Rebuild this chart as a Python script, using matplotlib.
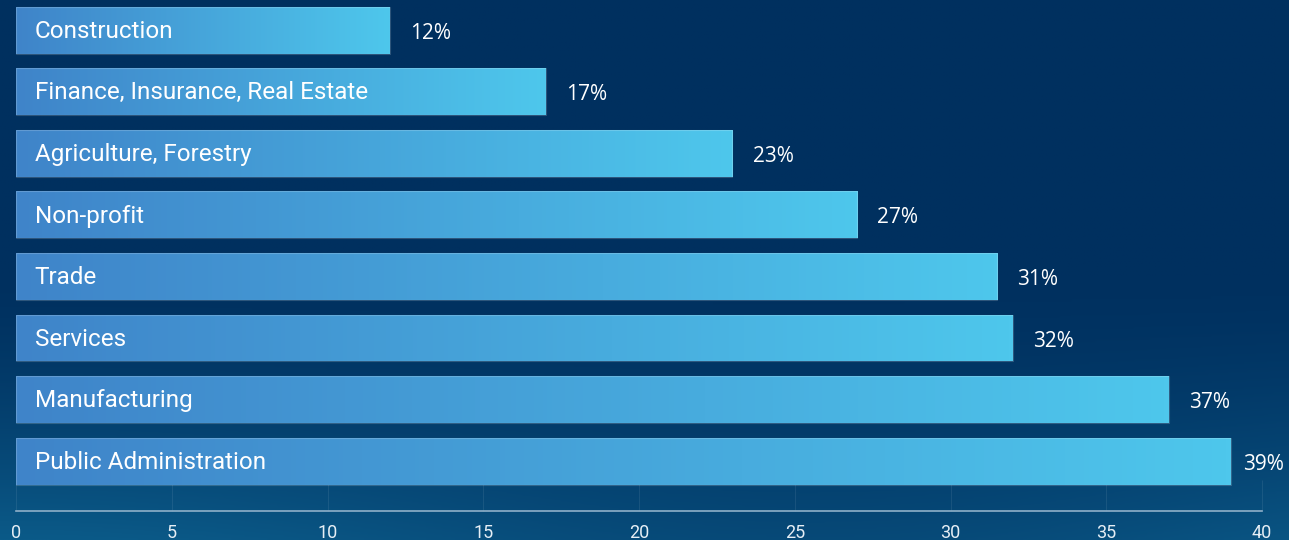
import numpy as np
import matplotlib
matplotlib.use("Agg")
import matplotlib.pyplot as plt
from matplotlib.colors import LinearSegmentedColormap

# Data -----------------------------------------------------------------------
sectors = ["Construction", "Finance, Insurance, Real Estate", "Agriculture, Forestry",
           "Non-profit", "Trade", "Services", "Manufacturing", "Public Administration"]
shares = [12, 17, 23, 27, 31.5, 32, 37, 39]
share_labels = ["12%", "17%", "23%", "27%", "31%", "32%", "37%", "39%"]
x_ticks = [0, 5, 10, 15, 20, 25, 30, 35, 40]

plt.rcParams["font.family"] = ["Roboto", "DejaVu Sans"]

fig = plt.figure(figsize=(12.89, 5.4), dpi=100)

# Background: dark navy with a teal glow towards the bottom
bg = fig.add_axes([0, 0, 1, 1], zorder=0)
bg.set_axis_off()
yy, xx = np.mgrid[0:1:200j, 0:1:400j]
glow = np.clip((yy - 0.5) / 0.5, 0, 1) ** 1.5 * (0.8 + 0.2 * np.cos(xx * 5.0))
bg_cmap = LinearSegmentedColormap.from_list("bg", ["#00305f", "#0b5a88"])
bg.imshow(glow, cmap=bg_cmap, vmin=0, vmax=1, aspect="auto", extent=(0, 1, 1, 0))
bg.set_xlim(0, 1)
bg.set_ylim(1, 0)

ax = fig.add_axes([16 / 1289, 29 / 540, 1246 / 1289, 511 / 540], zorder=1)
ax.patch.set_alpha(0)

bar_cmap = LinearSegmentedColormap.from_list("bar", ["#3f84c9", "#4ec7ec"])
gradient = np.linspace(0, 1, 256).reshape(1, -1)
height = 0.76
ypos = np.arange(len(sectors))
bars = ax.barh(ypos, shares, height=height, color="none", edgecolor="none")

for bar, y, val, lab, name in zip(bars, ypos, shares, share_labels, sectors):
    img = ax.imshow(gradient, cmap=bar_cmap, aspect="auto",
                    extent=(0, val, y + height / 2, y - height / 2), zorder=2)
    img.set_clip_path(bar)
    bar.set_edgecolor((1, 1, 1, 0.18))
    bar.set_linewidth(0.8)
    bar.set_zorder(2.5)
    ax.text(0.6, y + 0.02, name, color="white", fontsize=17.5, va="center", ha="left", zorder=3)
    # keep the value label inside the picture for the longest bar
    ax.text(min(val + 0.65, 39.38), y + 0.05, lab, color="white", fontsize=15,
            fontfamily=["Open Sans", "DejaVu Sans"], va="center", ha="left",
            zorder=3, clip_on=False)

ax.set_xlim(0, 40)
ax.set_ylim(7.81, -0.49)
ax.set_xticks(x_ticks)
ax.set_xticklabels([str(t) for t in x_ticks])
ax.set_yticks([])
for s in ["top", "right", "left"]:
    ax.spines[s].set_visible(False)
ax.spines["bottom"].set_color("#8fb0c9")
ax.spines["bottom"].set_linewidth(1.2)
ax.tick_params(axis="x", direction="in", length=22, width=0.8, color=(1, 1, 1, 0.08),
               labelcolor="#e6eef5", labelsize=13, pad=9)

fig.savefig("out.png", dpi=100)
